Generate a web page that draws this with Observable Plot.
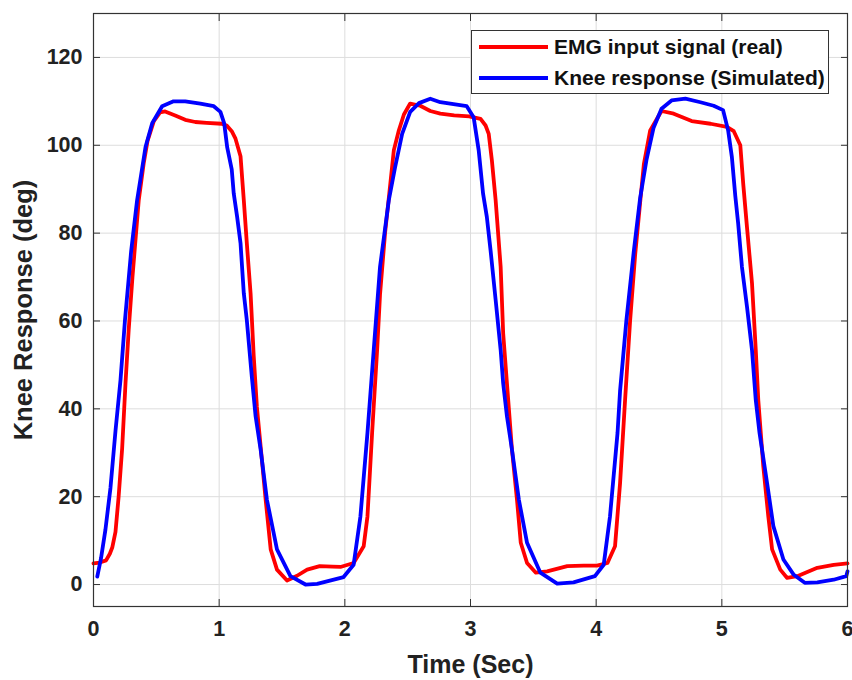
<!DOCTYPE html>
<html>
<head>
<meta charset="utf-8">
<script src="https://cdn.jsdelivr.net/npm/d3@7"></script>
<script src="https://cdn.jsdelivr.net/npm/@observablehq/plot@0.6"></script>
<style>
  body { margin: 0; background: #fff; }
  #wrap { position: relative; width: 852px; height: 680px; font-family: "Liberation Sans", Arial, sans-serif; }
  #legend { position: absolute; left: 471px; top: 30px; width: 356px; height: 62px; border: 1.5px solid #333; background: #fff; }
  .row { position: absolute; left: 0; height: 30px; display: flex; align-items: center; }
  .sw { width: 69px; height: 4px; margin-left: 7px; margin-right: 6px; }
  .lab { font-weight: bold; font-size: 21px; color: #111; white-space: nowrap; }
</style>
</head>
<body>
<div id="wrap"></div>
<script>
const emgTime = [0,0.05,0.1,0.13,0.15,0.175,0.2,0.228,0.255,0.28,0.31,0.36,0.4,0.43,0.48,0.53,0.57,0.65,0.73,0.81,0.9,1.02,1.06,1.1,1.13,1.17,1.196,1.22,1.25,1.275,1.3,1.34,1.37,1.41,1.46,1.54,1.62,1.7,1.8,1.9,1.965,2.07,2.15,2.18,2.217,2.257,2.28,2.32,2.35,2.39,2.43,2.47,2.52,2.6,2.68,2.76,2.87,2.99,3.08,3.12,3.145,3.17,3.2,3.24,3.26,3.29,3.33,3.37,3.4,3.45,3.52,3.61,3.77,3.9,4.007,4.09,4.15,4.19,4.23,4.27,4.31,4.35,4.38,4.43,4.52,4.617,4.76,4.91,5.04,5.095,5.147,5.17,5.2,5.24,5.27,5.29,5.33,5.37,5.4,5.465,5.52,5.6,5.76,5.89,6.0];
const emgValue = [4.8,5.0,5.5,7,8.5,12,20,31,46,58,70,87.5,96,101,105.5,107.5,107.7,106.8,105.8,105.3,105.1,104.9,104.5,103.2,101.5,97.5,87.5,77.7,66.3,52,40.5,28.4,19.3,8,3.4,0.9,2,3.4,4.2,4.1,4.0,4.9,8.7,15.5,34.5,53.4,66,80,88,98.9,103.4,107,109.5,109,107.8,107.2,106.8,106.6,106,104.5,102.6,96.6,87.5,72.3,57.2,45.8,30.7,19.3,9.5,4.9,2.7,3.0,4.2,4.3,4.3,4.9,8.7,23,42,60,75,87,95.8,103.4,107.8,107.2,105.5,104.9,104.2,103.2,100,91.3,81.4,68.6,53.4,42,26.9,15.5,8,3.4,1.5,1.9,3.8,4.5,4.8];

const kneeTime = [0.03,0.06,0.095,0.135,0.175,0.215,0.25,0.3,0.347,0.414,0.467,0.546,0.637,0.73,0.85,0.957,1.01,1.04,1.064,1.1,1.116,1.143,1.17,1.196,1.22,1.26,1.29,1.33,1.38,1.46,1.567,1.687,1.78,1.99,2.07,2.124,2.18,2.23,2.28,2.35,2.4,2.456,2.52,2.59,2.68,2.76,2.97,3.025,3.065,3.1,3.13,3.16,3.2,3.24,3.26,3.29,3.33,3.385,3.45,3.556,3.69,3.82,3.99,4.06,4.11,4.17,4.19,4.24,4.3,4.35,4.4,4.457,4.52,4.6,4.71,4.83,4.935,5.01,5.05,5.08,5.107,5.13,5.16,5.2,5.24,5.27,5.3,5.36,5.41,5.49,5.57,5.66,5.76,5.89,5.99,6.0];
const kneeValue = [1.8,6,12.5,22,35,46.6,60,76,87.5,99.6,105,108.9,110,110,109.5,108.9,107.6,105,99.5,94.5,89,83.7,77.7,66.3,60.2,47.3,38.3,30.7,19.3,8,1.9,0,0.15,1.7,4.5,15.5,34.5,53.4,72.3,87.5,95,102.6,107.6,109.6,110.6,109.8,108.9,106.4,98.9,89,83.7,76,64.8,53.4,45.8,38.3,30.7,19.3,9.5,2.7,0.2,0.5,1.9,4.5,15.5,34.5,44,60,76,88,96.6,104,108.3,110.2,110.6,109.8,109,108,103.4,97.3,88.5,82.2,72.3,63.3,53.4,42,34.5,23.1,13.3,5.7,2.3,0.4,0.5,1.1,1.9,3];

const xTicks = [0,1,2,3,4,5,6];
const yTicks = [0,20,40,60,80,100,120];
const seriesNames = ["EMG input signal (real)", "Knee response (Simulated)"];
const seriesColors = ["#ff0000", "#0000ff"];

const emg = emgTime.map((t, i) => ({t, v: emgValue[i]}));
const knee = kneeTime.map((t, i) => ({t, v: kneeValue[i]}));

const chart = Plot.plot({
  width: 852,
  height: 680,
  marginLeft: 93,
  marginRight: 5,
  marginTop: 13,
  marginBottom: 74,
  style: {fontFamily: "'Liberation Sans', Arial, sans-serif", background: "#fff", overflow: "visible"},
  x: {domain: [0, 6]},
  y: {domain: [-5, 130]},
  marks: [
    Plot.gridX(xTicks, {stroke: "#ddd", strokeOpacity: 1, strokeWidth: 1}),
    Plot.gridY(yTicks, {stroke: "#ddd", strokeOpacity: 1, strokeWidth: 1}),
    Plot.line(emg, {x: "t", y: "v", stroke: seriesColors[0], strokeWidth: 3.8, curve: "linear"}),
    Plot.line(knee, {x: "t", y: "v", stroke: seriesColors[1], strokeWidth: 3.8, curve: "linear"}),
    Plot.frame({stroke: "#333", strokeWidth: 1.2}),
    Plot.axisY(yTicks, {anchor: "left", tickSize: -7, text: null, stroke: "#333", label: null}),
    Plot.axisY(yTicks, {anchor: "right", tickSize: -7, text: null, stroke: "#333", label: null}),
    Plot.axisX(xTicks, {anchor: "bottom", tickSize: -7, text: null, stroke: "#333", label: null}),
    Plot.axisX(xTicks, {anchor: "top", tickSize: -7, text: null, stroke: "#333", label: null}),
    Plot.axisY(yTicks, {anchor: "left", tickSize: 0, tickPadding: 11, fontSize: 21.5, fontWeight: "bold", fill: "#222",
      tickFormat: d => String(d),
      label: "Knee Response (deg)", labelAnchor: "center", labelArrow: "none", labelOffset: 80}),
    Plot.axisX(xTicks, {anchor: "bottom", tickSize: 0, tickPadding: 14, fontSize: 21.5, fontWeight: "bold", fill: "#222",
      tickFormat: d => String(d),
      label: "Time (Sec)", labelAnchor: "center", labelArrow: "none", labelOffset: 66})
  ]
});

chart.querySelectorAll("g[aria-label='y-axis label'] text").forEach(t => {
  t.setAttribute("font-size", "25.5");
  t.setAttribute("font-weight", "bold");
  t.setAttribute("fill", "#222");
});
chart.querySelectorAll("g[aria-label='x-axis label'] text").forEach(t => {
  t.setAttribute("font-size", "25");
  t.setAttribute("font-weight", "bold");
  t.setAttribute("fill", "#222");
});

const wrap = document.getElementById("wrap");
wrap.appendChild(chart);

const legend = document.createElement("div");
legend.id = "legend";
seriesNames.forEach((name, i) => {
  const row = document.createElement("div");
  row.className = "row";
  row.style.top = (i * 31 + 1) + "px";
  const sw = document.createElement("div");
  sw.className = "sw";
  sw.style.background = seriesColors[i];
  const lab = document.createElement("span");
  lab.className = "lab";
  lab.textContent = name;
  row.appendChild(sw);
  row.appendChild(lab);
  legend.appendChild(row);
});
wrap.appendChild(legend);
</script>
</body>
</html>
